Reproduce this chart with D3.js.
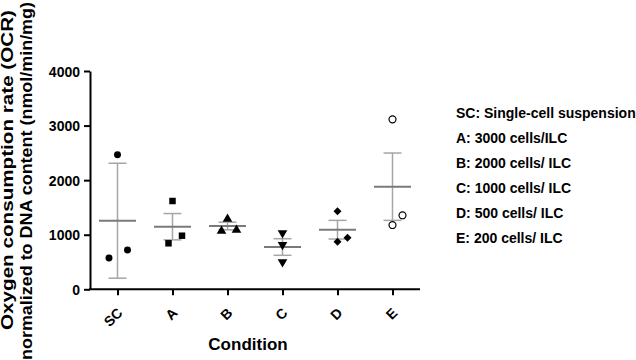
<!DOCTYPE html>
<html lang="en">
<head>
<meta charset="UTF-8">
<title>OCR by condition</title>
<script src="https://d3js.org/d3.v7.min.js"></script>
<style>
  body { margin: 0; background: #fff; }
  text { font-family: "Liberation Sans", Arial, sans-serif; font-weight: bold; fill: #000; }
</style>
</head>
<body>
<script>
    // data
    var conditions = ["SC", "A", "B", "C", "D", "E"];
    var replicates = [
        [2466, 573, 720],
        [1618, 843, 982],
        [1288, 1068, 1086],
        [1031, 817, 500],
        [1429, 872, 945],
        [3115, 1356, 1178]
    ];
    var means = [1257, 1147, 1160, 775, 1092, 1880];
    var sds = [1053, 241, 70, 152, 171, 617];
    var yTicks = [0, 1000, 2000, 3000, 4000];
    var legendLines = [
        "SC: Single-cell suspension",
        "A: 3000 cells/ILC",
        "B: 2000 cells/ ILC",
        "C: 1000 cells/ ILC",
        "D: 500 cells/ ILC",
        "E: 200 cells/ ILC"
    ];

    var w = 636;
    var h = 360;
    var plotL = 90, plotR = 420, plotT = 71, plotB = 289.3;

    // small horizontal scatter, like the original plot
    var jitter = [[0, -8.5, 10], [0, -4, 9.5], [0, -6, 9], [0, 0, 0], [0, 0, 10], [0, 10, 0]];

    var svg = d3.select("body")
                .append("svg")
                .attr("width", w)
                .attr("height", h);

    var xScale = d3.scalePoint()
                   .domain(conditions)
                   .range([plotL, plotR])
                   .padding(0.5);

    var yScale = d3.scaleLinear()
                   .domain([0, 4000])
                   .range([plotB, plotT]);

    // y axis
    var yAxis = svg.append("g")
        .attr("transform", "translate(" + plotL + ",0)")
        .call(d3.axisLeft(yScale).tickValues(yTicks).tickFormat(d3.format("d"))
              .tickSize(6).tickPadding(4).tickSizeOuter(0));
    yAxis.select(".domain").attr("stroke-width", 2);
    yAxis.selectAll(".tick line").attr("stroke-width", 2);
    yAxis.selectAll(".tick text")
        .style("font-size", "14px")
        .attr("dy", "0.36em");

    // x axis
    var xAxis = svg.append("g")
        .attr("transform", "translate(0," + plotB + ")")
        .call(d3.axisBottom(xScale).tickSize(6).tickSizeOuter(0));
    xAxis.select(".domain").attr("stroke-width", 2)
        .attr("d", "M" + (plotL - 1) + ",0H" + plotR);
    xAxis.selectAll(".tick line").attr("stroke-width", 2);
    xAxis.selectAll(".tick text")
        .style("font-size", "14px")
        .attr("text-anchor", "end")
        .attr("x", 0).attr("y", 0)
        .attr("dy", "0.35em")
        .attr("transform", "translate(2,21) rotate(-45)");

    // axis titles
    svg.append("text")
        .attr("x", 248)
        .attr("y", 350)
        .attr("text-anchor", "middle")
        .style("font-size", "17px")
        .text("Condition");

    svg.append("text")
        .attr("transform", "translate(13,170) rotate(-90)")
        .attr("text-anchor", "middle")
        .attr("textLength", 320)
        .attr("lengthAdjust", "spacingAndGlyphs")
        .style("font-size", "16px")
        .text("Oxygen consumption rate (OCR)");

    svg.append("text")
        .attr("transform", "translate(32,181) rotate(-90)")
        .attr("text-anchor", "middle")
        .attr("textLength", 358)
        .attr("lengthAdjust", "spacingAndGlyphs")
        .style("font-size", "16px")
        .text("normalized to DNA content (nmol/min/mg)");

    // mean +/- SD
    var bars = svg.append("g").selectAll("g")
        .data(conditions)
        .enter()
        .append("g");

    bars.append("line")
        .attr("x1", function(d) { return xScale(d); })
        .attr("x2", function(d) { return xScale(d); })
        .attr("y1", function(d, i) { return yScale(means[i] + sds[i]); })
        .attr("y2", function(d, i) { return yScale(means[i] - sds[i]); })
        .attr("stroke", "#a6a6a6").attr("stroke-width", 1.5);

    [1, -1].forEach(function(sign) {
        bars.append("line")
            .attr("x1", function(d) { return xScale(d) - 9; })
            .attr("x2", function(d) { return xScale(d) + 9; })
            .attr("y1", function(d, i) { return yScale(means[i] + sign * sds[i]); })
            .attr("y2", function(d, i) { return yScale(means[i] + sign * sds[i]); })
            .attr("stroke", "#a6a6a6").attr("stroke-width", 1.5);
    });

    bars.append("line")
        .attr("x1", function(d) { return xScale(d) - 18.5; })
        .attr("x2", function(d) { return xScale(d) + 18.5; })
        .attr("y1", function(d, i) { return yScale(means[i]); })
        .attr("y2", function(d, i) { return yScale(means[i]); })
        .attr("stroke", "#7a7a7a").attr("stroke-width", 2);

    // points
    var shapes = [
        { type: d3.symbolCircle, size: 38, rot: 0, fill: "#000" },
        { type: d3.symbolSquare, size: 42, rot: 0, fill: "#000" },
        { type: d3.symbolTriangle, size: 40, rot: 0, fill: "#000" },
        { type: d3.symbolTriangle, size: 40, rot: 180, fill: "#000" },
        { type: d3.symbolSquare, size: 32, rot: 45, fill: "#000" },
        { type: d3.symbolCircle, size: 38, rot: 0, fill: "#fff" }
    ];

    conditions.forEach(function(c, i) {
        var s = shapes[i];
        svg.append("g").selectAll("path")
            .data(replicates[i])
            .enter()
            .append("path")
            .attr("d", d3.symbol().type(s.type).size(s.size))
            .attr("transform", function(d, j) {
                return "translate(" + (xScale(c) + jitter[i][j]) + "," + yScale(d) + ") rotate(" + s.rot + ")";
            })
            .attr("fill", s.fill)
            .attr("stroke", "#000")
            .attr("stroke-width", s.fill === "#fff" ? 1.2 : 0);
    });

    // legend
    svg.append("g").selectAll("text")
        .data(legendLines)
        .enter()
        .append("text")
        .attr("x", 456)
        .attr("y", function(d, i) { return 118 + i * 25; })
        .style("font-size", "14px")
        .text(function(d) { return d; });
</script>
</body>
</html>
